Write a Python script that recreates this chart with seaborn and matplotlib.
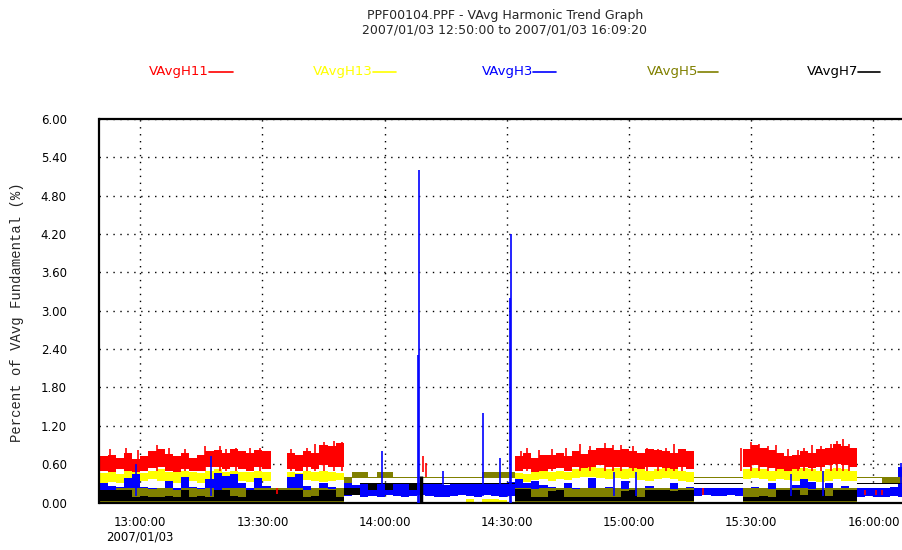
import numpy as np
import pandas as pd
import matplotlib
matplotlib.use("Agg")
import matplotlib.pyplot as plt
import matplotlib.dates as mdates
from matplotlib.lines import Line2D
import seaborn as sns

# ---------------- data (2-minute samples from 12:50:00) ----------------
start = pd.Timestamp("2007-01-03 12:50:00")
end = pd.Timestamp("2007-01-03 16:09:20")
times = pd.date_range(start, periods=100, freq="2min")

# VAvgH11 (red) band
h11_hi = [0.72, 0.75, 0.70, 0.78, 0.68, 0.72, 0.80, 0.84, 0.76, 0.72, 0.78, 0.70, 0.74, 0.80, 0.82, 0.78, 0.84, 0.80, 0.78, 0.82, 0.80,
          0, 0,
          0.78, 0.75, 0.80, 0.77, 0.90, 0.88, 0.93,
          0, 0, 0, 0, 0, 0, 0, 0, 0, 0, 0, 0, 0, 0, 0, 0, 0, 0, 0, 0, 0,
          0.72, 0.78, 0.70, 0.75, 0.74, 0.78, 0.72, 0.80, 0.76, 0.82, 0.85, 0.86, 0.82, 0.84, 0.80, 0.78, 0.84, 0.82, 0.80, 0.78, 0.84, 0.80,
          0, 0, 0, 0, 0, 0,
          0.84, 0.90, 0.86, 0.82, 0.78, 0.72, 0.74, 0.80, 0.78, 0.84, 0.86, 0.92, 0.88, 0.86,
          0, 0, 0, 0, 0, 0, 0]
h11_lo = [0.50, 0.48, 0.52, 0.50, 0.46, 0.50, 0.54, 0.55, 0.50, 0.48, 0.52, 0.50, 0.50, 0.55, 0.56, 0.52, 0.55, 0.52, 0.50, 0.55, 0.52,
          0, 0,
          0.52, 0.50, 0.55, 0.52, 0.58, 0.56, 0.55,
          0, 0, 0, 0, 0, 0, 0, 0, 0, 0, 0, 0, 0, 0, 0, 0, 0, 0, 0, 0, 0,
          0.50, 0.52, 0.48, 0.50, 0.52, 0.54, 0.50, 0.55, 0.52, 0.56, 0.58, 0.56, 0.55, 0.56, 0.54, 0.52, 0.56, 0.55, 0.54, 0.52, 0.55, 0.52,
          0, 0, 0, 0, 0, 0,
          0.56, 0.58, 0.56, 0.54, 0.52, 0.50, 0.52, 0.55, 0.54, 0.56, 0.58, 0.60, 0.58, 0.56,
          0, 0, 0, 0, 0, 0, 0]

# VAvgH13 (yellow) band
h13_hi = [0.46, 0.48, 0.45, 0.50, 0.48, 0.46, 0.50, 0.52, 0.48, 0.47, 0.50, 0.48, 0.46, 0.50, 0.52, 0.48, 0.50, 0.48, 0.47, 0.50, 0.48,
          0, 0,
          0.48, 0.46, 0.50, 0.48, 0.50, 0.48, 0.46,
          0.40, 0, 0, 0, 0, 0, 0, 0, 0, 0, 0, 0, 0, 0, 0, 0.05, 0, 0.06, 0.05, 0.04, 0,
          0.46, 0.44, 0.48, 0.50, 0.48, 0.50, 0.48, 0.52, 0.54, 0.55, 0.54, 0.52, 0.54, 0.52, 0.54, 0.52, 0.50, 0.52, 0.54, 0.52, 0.50, 0.48,
          0, 0, 0, 0, 0, 0,
          0.52, 0.54, 0.52, 0.50, 0.52, 0.50, 0.52, 0.54, 0.52, 0.50, 0.52, 0.54, 0.52, 0.50,
          0, 0, 0, 0, 0, 0, 0]
h13_lo = [0.30, 0.32, 0.30, 0.34, 0.30, 0.33, 0.36, 0.34, 0.32, 0.30, 0.34, 0.33, 0.30, 0.35, 0.36, 0.34, 0.36, 0.33, 0.32, 0.35, 0.34,
          0, 0,
          0.33, 0.32, 0.35, 0.33, 0.32, 0.34, 0.35,
          0.30, 0, 0, 0, 0, 0, 0, 0, 0, 0, 0, 0, 0, 0, 0, 0, 0, 0, 0, 0, 0,
          0.34, 0.32, 0.35, 0.36, 0.34, 0.36, 0.35, 0.38, 0.40, 0.40, 0.38, 0.36, 0.38, 0.36, 0.38, 0.35, 0.34, 0.36, 0.38, 0.36, 0.34, 0.32,
          0, 0, 0, 0, 0, 0,
          0.36, 0.38, 0.36, 0.34, 0.36, 0.35, 0.34, 0.36, 0.34, 0.32, 0.34, 0.36, 0.34, 0.33,
          0, 0, 0, 0, 0, 0, 0]

# VAvgH3 (blue) band
h3_hi = [0.30, 0.26, 0.24, 0.38, 0.44, 0.24, 0.22, 0.22, 0.34, 0.22, 0.40, 0.24, 0.22, 0.36, 0.46, 0.42, 0.44, 0.30, 0.22, 0.38, 0.26,
         0, 0,
         0.40, 0.44, 0.26, 0.22, 0.30, 0.24, 0.22,
         0.30, 0.28, 0.30, 0.29, 0.30, 0.28, 0.30, 0.30, 0.28, 0.30, 0.29, 0.30, 0.28, 0.30, 0.30, 0.29, 0.30, 0.31, 0.30, 0.30, 0.32,
         0.36, 0.30, 0.34, 0.28, 0.24, 0.22, 0.30, 0.22, 0.22, 0.38, 0.22, 0.24, 0.22, 0.34, 0.22, 0.22, 0.26, 0.22, 0.22, 0.30, 0.22, 0.24,
         0.22, 0.22, 0.23, 0.22, 0.22, 0.23,
         0.22, 0.24, 0.22, 0.30, 0.22, 0.22, 0.28, 0.36, 0.32, 0.22, 0.30, 0.22, 0.26, 0.22,
         0.23, 0.23, 0.22, 0.23, 0.24, 0.55, 0.60]
h3_lo = [0.12, 0.14, 0.12, 0.15, 0.12, 0.14, 0.12, 0.12, 0.15, 0.12, 0.14, 0.12, 0.12, 0.15, 0.14, 0.12, 0.15, 0.12, 0.12, 0.14, 0.12,
         0, 0,
         0.14, 0.12, 0.12, 0.12, 0.14, 0.12, 0.12,
         0.10, 0.12, 0.08, 0.10, 0.09, 0.11, 0.10, 0.08, 0.10, 0.12, 0.10, 0.09, 0.08, 0.10, 0.11, 0.10, 0.09, 0.12, 0.10, 0.08, 0.10,
         0.06, 0.06, 0.08, 0.06, 0.08, 0.12, 0.12, 0.12, 0.12, 0.12, 0.12, 0.12, 0.12, 0.12, 0.12, 0.12, 0.12, 0.12, 0.12, 0.12, 0.12, 0.12,
         0.10, 0.11, 0.10, 0.10, 0.11, 0.10,
         0.12, 0.12, 0.12, 0.12, 0.12, 0.12, 0.12, 0.12, 0.12, 0.12, 0.12, 0.12, 0.12, 0.12,
         0.09, 0.10, 0.09, 0.09, 0.10, 0.09, 0.09]

# VAvgH5 (olive) band
h5_hi = [0.20, 0.20, 0.22, 0.22, 0.22, 0.22, 0.21, 0.22, 0.22, 0.20, 0.22, 0.22, 0.21, 0.22, 0.20, 0.22, 0.22, 0.22, 0.20, 0.22, 0.22,
         0.22, 0.22,
         0.22, 0.22, 0.20, 0.22, 0.22, 0.21, 0.22,
         0.40, 0.48, 0.48, 0.40, 0.47, 0.47, 0.40, 0.40, 0.40, 0.40, 0.40, 0.40, 0.40, 0.40, 0.40, 0.40, 0.40, 0.48, 0.48, 0.48, 0.48,
         0.22, 0.22, 0.21, 0.22, 0.22, 0.22, 0.22, 0.21, 0.22, 0.22, 0.22, 0.22, 0.22, 0.21, 0.22, 0.22, 0.22, 0.22, 0.22, 0.21, 0.22, 0.22,
         0.40, 0.40, 0.40, 0.40, 0.40, 0.40,
         0.22, 0.22, 0.22, 0.21, 0.22, 0.22, 0.22, 0.22, 0.21, 0.22, 0.22, 0.22, 0.22, 0.22,
         0.40, 0.40, 0.40, 0.40, 0.40, 0.40, 0.40]
h5_lo = [0, 0, 0, 0, 0, 0, 0, 0, 0, 0, 0, 0, 0, 0, 0, 0, 0, 0, 0, 0, 0,
         0, 0,
         0, 0, 0, 0, 0, 0, 0,
         0.30, 0.38, 0.38, 0.385, 0.38, 0.38, 0.385, 0.385, 0.385, 0.385, 0.385, 0.385, 0.385, 0.385, 0.385, 0.385, 0.385, 0.38, 0.38, 0.38, 0.38,
         0, 0, 0, 0, 0, 0, 0, 0, 0, 0, 0, 0, 0, 0, 0, 0, 0, 0, 0, 0, 0, 0,
         0.385, 0.385, 0.385, 0.385, 0.385, 0.385,
         0, 0, 0, 0, 0, 0, 0, 0, 0, 0, 0, 0, 0, 0,
         0.385, 0.385, 0.385, 0.30, 0.30, 0.30, 0.30]

# VAvgH7 (black) band
h7_hi = [0.20, 0.20, 0.19, 0.20, 0.09, 0.10, 0.09, 0.09, 0.10, 0.09, 0.20, 0.09, 0.10, 0.09, 0.20, 0.20, 0.10, 0.09, 0.20, 0.19, 0.20,
         0.20, 0.20,
         0.20, 0.20, 0.09, 0.10, 0.20, 0.20, 0.09,
         0.22, 0.22, 0.31, 0.31, 0.31, 0.31, 0.31, 0.31, 0.31, 0.31, 0.31, 0.31, 0.31, 0.31, 0.31, 0.31, 0.31, 0.31, 0.31, 0.31, 0.31,
         0.21, 0.21, 0.09, 0.09, 0.18, 0.20, 0.09, 0.09, 0.09, 0.09, 0.09, 0.09, 0.09, 0.18, 0.20, 0.09, 0.20, 0.20, 0.20, 0.18, 0.20, 0.20,
         0.31, 0.31, 0.31, 0.31, 0.31, 0.31,
         0.09, 0.09, 0.10, 0.09, 0.20, 0.20, 0.20, 0.12, 0.20, 0.20, 0.10, 0.20, 0.20, 0.20,
         0.31, 0.31, 0.31, 0.31, 0.31, 0.31, 0.31]
h7_lo = [0.02, 0.02, 0.02, 0.02, 0.02, 0.02, 0.02, 0.02, 0.02, 0.02, 0.02, 0.02, 0.02, 0.02, 0.02, 0.02, 0.02, 0.02, 0.02, 0.02, 0.02,
         0.02, 0.02,
         0.02, 0.02, 0.02, 0.02, 0.02, 0.02, 0.02,
         0.12, 0.12, 0.29, 0.20, 0.29, 0.20, 0.29, 0.29, 0.20, 0.29, 0.29, 0.29, 0.29, 0.29, 0.29, 0.29, 0.29, 0.29, 0.29, 0.29, 0.29,
         0.02, 0.02, 0.02, 0.02, 0.02, 0.02, 0.02, 0.02, 0.02, 0.02, 0.02, 0.02, 0.02, 0.02, 0.02, 0.02, 0.02, 0.02, 0.02, 0.02, 0.02, 0.02,
         0.29, 0.29, 0.29, 0.29, 0.29, 0.29,
         0.02, 0.02, 0.02, 0.02, 0.02, 0.02, 0.02, 0.02, 0.02, 0.02, 0.02, 0.02, 0.02, 0.02,
         0.29, 0.29, 0.29, 0.29, 0.29, 0.29, 0.29]

# single-sample excursions (minutes after 12:50:00)
red_spike_min = [2.5, 6.5, 9.5, 14.0, 17.0, 21.0, 26.0, 29.5, 31.0, 33.5, 37.0, 39.5,
                 43.5, 47.0, 51.0, 53.0, 55.0, 57.5, 59.5, 79.5, 80.2,
                 103.5, 105.0, 108.0, 111.0, 114.5, 118.0, 120.5, 124.0, 126.0, 128.0, 131.0, 134.5,
                 137.0, 139.0, 141.0, 143.0, 148.2,
                 157.5, 160.0, 162.0, 164.0, 166.0, 169.0, 171.5, 173.0, 175.0, 177.0, 179.5, 181.0,
                 182.4, 184.0, 188.0, 190.5, 192.0]
red_spike_lo = [0.5, 0.5, 0.5, 0.5, 0.5, 0.5, 0.5, 0.5, 0.5, 0.5, 0.5, 0.5,
                0.14, 0.5, 0.5, 0.5, 0.5, 0.5, 0.5, 0.48, 0.40,
                0.5, 0.5, 0.5, 0.5, 0.5, 0.5, 0.5, 0.5, 0.5, 0.5, 0.5, 0.5,
                0.5, 0.5, 0.5, 0.5, 0.12,
                0.5, 0.5, 0.5, 0.5, 0.5, 0.5, 0.5, 0.5, 0.5, 0.5, 0.5, 0.5,
                0.5, 0.5, 0.12, 0.12, 0.12]
red_spike_hi = [0.84, 0.86, 0.82, 0.90, 0.86, 0.84, 0.88, 0.88, 0.84, 0.86, 0.85, 0.86,
                0.22, 0.84, 0.86, 0.92, 0.95, 0.97, 0.94, 0.72, 0.62,
                0.80, 0.86, 0.82, 0.84, 0.86, 0.92, 0.88, 0.93, 0.90, 0.90, 0.88, 0.86,
                0.84, 0.86, 0.92, 0.84, 0.22,
                0.86, 0.94, 0.92, 0.88, 0.90, 0.84, 0.82, 0.86, 0.90, 0.88, 0.92, 0.96,
                0.99, 0.92, 0.20, 0.20, 0.20]

blue_spike_min = [9.0, 27.4, 69.3, 78.1, 78.4, 84.3, 94.1, 98.4, 100.8, 101.1, 126.2, 131.7, 169.7, 177.7, 196.8]
blue_spike_lo = [0.10, 0.10, 0.10, 0.0, 0.0, 0.10, 0.10, 0.10, 0.0, 0.0, 0.10, 0.10, 0.10, 0.10, 0.10]
blue_spike_hi = [0.60, 0.72, 0.80, 2.30, 5.20, 0.50, 1.40, 0.70, 3.20, 4.20, 0.48, 0.48, 0.45, 0.50, 0.62]

black_spike_min = [79.0]
black_spike_lo = [0.0]
black_spike_hi = [0.42]

series_names = ["VAvgH11", "VAvgH13", "VAvgH3", "VAvgH5", "VAvgH7"]
series_colors = ["#ff0000", "#ffff00", "#0000ff", "#808000", "#000000"]

# ---------------- plot ----------------
sns.set_style("white")
plt.rcParams["font.family"] = ["DejaVu Sans"]

fig = plt.figure(figsize=(9.03, 5.5), dpi=100)
W, H = 903.0, 550.0
ax = fig.add_axes([99.5 / W, 1 - 502.5 / H, 812 / W, 383.5 / H])

x = mdates.date2num(times)
bands = [(h11_lo, h11_hi), (h13_lo, h13_hi), (h3_lo, h3_hi), (h5_lo, h5_hi), (h7_lo, h7_hi)]
for (lo, hi), col in zip(bands, series_colors):
    ax.fill_between(x, lo, hi, step="post", color=col, linewidth=0, zorder=2)


def spike_x(minutes):
    return mdates.date2num(start + pd.to_timedelta(minutes, unit="min"))


ax.vlines(spike_x(red_spike_min), red_spike_lo, red_spike_hi, color="#ff0000", lw=1.2, zorder=3)
ax.vlines(spike_x(black_spike_min), black_spike_lo, black_spike_hi, color="black", lw=2.5, zorder=3)
ax.vlines(spike_x(blue_spike_min), blue_spike_lo, blue_spike_hi, color="#0000ff", lw=1.2, zorder=4)

ax.set_xlim(mdates.date2num(start), mdates.date2num(end))
ax.set_ylim(0, 6)
ax.set_yticks(np.round(np.arange(0, 6.01, 0.6), 2))
ax.yaxis.set_major_formatter(plt.FormatStrFormatter("%.2f"))

ax.xaxis.set_major_locator(mdates.MinuteLocator(byminute=[0, 30]))


def fmt_time(v, pos):
    d = mdates.num2date(v)
    s = d.strftime("%H:%M:%S")
    if pos == 0:
        s += "\n" + d.strftime("%Y/%m/%d")
    return s


ax.xaxis.set_major_formatter(plt.FuncFormatter(fmt_time))

ax.grid(True, color="black", linestyle=(0, (1, 4)), linewidth=1.0)
ax.set_axisbelow(True)

for side in ["left", "top", "bottom"]:
    ax.spines[side].set_linewidth(1.6)
    ax.spines[side].set_color("black")
ax.spines["right"].set_visible(False)

ax.tick_params(axis="both", direction="out", length=6.5, width=1, color="black", labelsize=8.5, labelcolor="black")
ax.tick_params(axis="y", pad=17)
ax.tick_params(axis="x", pad=3)

# titles
fig.text(505 / W, 1 - 15 / H, "PPF00104.PPF - VAvg Harmonic Trend Graph", ha="center", va="center", fontsize=9)
fig.text(505 / W, 1 - 30 / H, "2007/01/03 12:50:00 to 2007/01/03 16:09:20", ha="center", va="center", fontsize=9)

# y label
fig.text(17 / W, 1 - 312 / H, "Percent of VAvg Fundamental (%)", rotation=90, ha="center", va="center",
         fontsize=10, family=["Liberation Mono", "DejaVu Sans Mono"])

# legend (text followed by a short line)
legend_lines = [(209, 233), (373, 396), (533, 556), (698, 718), (858, 880)]
for name, col, (l0, l1) in zip(series_names, series_colors, legend_lines):
    fig.text(l0 / W, 1 - 72 / H, name, color=col, ha="right", va="center", fontsize=9.5)
    fig.add_artist(Line2D([l0 / W, l1 / W], [1 - 72 / H, 1 - 72 / H], color=col, lw=1.2, transform=fig.transFigure))

fig.savefig("out.png", dpi=100)
